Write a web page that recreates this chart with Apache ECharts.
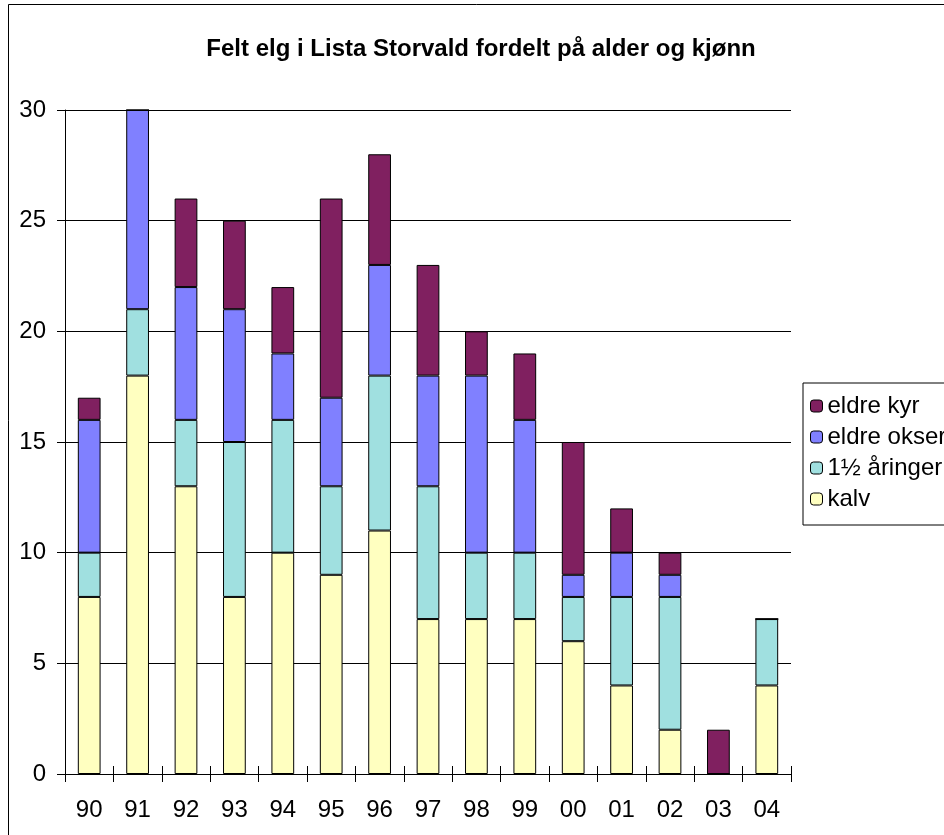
<!DOCTYPE html>
<html>
<head>
<meta charset="utf-8">
<script src="https://cdn.jsdelivr.net/npm/echarts@6/dist/echarts.min.js"></script>
<style>
  html, body { margin: 0; padding: 0; background: #fff; }
  #chart { width: 944px; height: 835px; }
</style>
</head>
<body>
<div id="chart"></div>
<script>
const years = ['90', '91', '92', '93', '94', '95', '96', '97', '98', '99', '00', '01', '02', '03', '04'];
const kalv = [8, 18, 13, 8, 10, 9, 11, 7, 7, 7, 6, 4, 2, 0, 4];
const aaringer = [2, 3, 3, 7, 6, 4, 7, 6, 3, 3, 2, 4, 6, 0, 3];
const eldreOkser = [6, 9, 6, 6, 3, 4, 5, 5, 8, 6, 1, 2, 1, 0, 0];
const eldreKyr = [1, 0, 4, 4, 3, 9, 5, 5, 2, 3, 6, 2, 1, 2, 0];
const yTicks = [0, 5, 10, 15, 20, 25, 30];

const chart = echarts.init(document.getElementById('chart'));

const font = 'Liberation Sans, Arial, sans-serif';

function bar(name, data, color) {
  return {
    name: name,
    type: 'bar',
    stack: 'total',
    data: data,
    barCategoryGap: '53%',
    itemStyle: { color: color, borderColor: '#000', borderWidth: 1 }
  };
}

const option = {
  animation: false,
  textStyle: { fontFamily: font },
  graphic: [{
    type: 'rect',
    shape: { x: 8.5, y: 4.5, width: 1000, height: 1000 },
    style: { fill: 'none', stroke: '#000', lineWidth: 1 },
    silent: true
  }],
  title: {
    text: 'Felt elg i Lista Storvald fordelt på alder og kjønn',
    left: 476,
    top: 32,
    textAlign: 'center',
    textStyle: { fontSize: 24, fontWeight: 'bold', color: '#000', fontFamily: font }
  },
  legend: {
    orient: 'vertical',
    left: 803,
    top: 383,
    padding: [11, 60, 14, 7],
    itemWidth: 12,
    itemHeight: 12,
    itemGap: 7,
    borderColor: '#000',
    borderWidth: 1,
    borderRadius: 0,
    data: ['eldre kyr', 'eldre okser', '1½ åringer', 'kalv'],
    textStyle: { fontSize: 24, color: '#000', lineHeight: 24, fontFamily: font, padding: [0, 0, 0, 0] },
    itemStyle: { borderColor: '#000', borderWidth: 1 }
  },
  grid: { left: 65, top: 110, width: 726, height: 664, containLabel: false },
  xAxis: [{
    type: 'category',
    data: years,
    boundaryGap: true,
    axisLine: { lineStyle: { color: '#000', width: 1 } },
    axisTick: { show: true, length: 8, lineStyle: { color: '#000' } },
    axisLabel: { fontSize: 24, color: '#000', margin: 24, fontFamily: font },
    splitLine: { show: false }
  }, {
    type: 'category',
    data: years,
    position: 'bottom',
    boundaryGap: true,
    axisLine: { show: false },
    axisTick: { show: true, inside: true, length: 8, lineStyle: { color: '#000' } },
    axisLabel: { show: false },
    splitLine: { show: false }
  }],
  yAxis: {
    type: 'value',
    min: yTicks[0],
    max: yTicks[yTicks.length - 1],
    interval: 5,
    axisLine: { show: true, lineStyle: { color: '#000', width: 1 } },
    axisTick: { show: true, length: 8, lineStyle: { color: '#000' } },
    axisLabel: { fontSize: 24, color: '#000', margin: 19, fontFamily: font },
    splitLine: { show: true, lineStyle: { color: '#000', width: 1 } }
  },
  series: [
    bar('kalv', kalv, '#FFFFC0'),
    bar('1½ åringer', aaringer, '#A0E0E0'),
    bar('eldre okser', eldreOkser, '#8080FF'),
    bar('eldre kyr', eldreKyr, '#802060')
  ]
};

chart.setOption(option);
</script>
</body>
</html>
